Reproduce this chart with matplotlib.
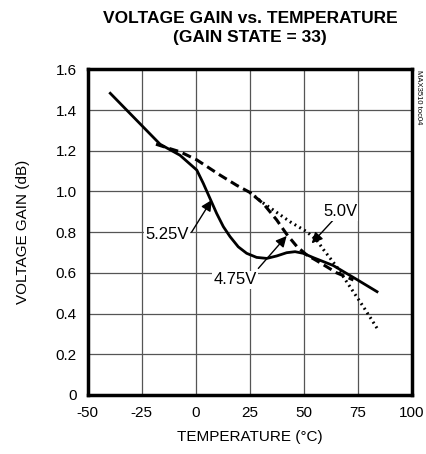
import matplotlib
matplotlib.use("Agg")
import matplotlib.pyplot as plt

plt.rcParams['font.family'] = ['Liberation Sans Narrow', 'Liberation Sans', 'DejaVu Sans']
plt.rcParams['axes.unicode_minus'] = False

# 5.25V (solid)
t_525 = [-40.0, -16.5, -7.3, 0.5, 3.5, 6.6, 9.7, 12.8, 15.9, 19.7, 23.6, 28.2, 32.9, 37.5, 42.1, 46.0, 49.8, 54.4, 63.7, 74.5, 84.5]
g_525 = [1.487, 1.232, 1.178, 1.105, 1.04, 0.966, 0.892, 0.827, 0.778, 0.728, 0.696, 0.676, 0.671, 0.683, 0.699, 0.704, 0.696, 0.675, 0.636, 0.568, 0.504]

# 4.75V (dashed)
t_475 = [-18.4, -11.9, -7.3, 0.5, 11.3, 19.0, 25.1, 31.3, 37.5, 42.1, 46.8, 51.4, 56.0, 65.3, 73.0]
g_475 = [1.232, 1.21, 1.195, 1.155, 1.08, 1.03, 0.995, 0.94, 0.86, 0.79, 0.73, 0.688, 0.66, 0.6, 0.565]

# 5.0V (dotted)
t_50 = [25.1, 31.0, 35.9, 43.7, 51.4, 56.0, 59.1, 65.3, 71.4, 77.6, 84.5]
g_50 = [0.995, 0.945, 0.909, 0.851, 0.802, 0.761, 0.715, 0.63, 0.532, 0.434, 0.319]

x_ticks = [-50, -25, 0, 25, 50, 75, 100]
y_ticks = [0, 0.2, 0.4, 0.6, 0.8, 1.0, 1.2, 1.4, 1.6]
y_labels = ['0', '0.2', '0.4', '0.6', '0.8', '1.0', '1.2', '1.4', '1.6']

fig = plt.figure(figsize=(4.26, 4.54), dpi=100)
ax = fig.add_axes([87.7 / 426, 59 / 454, 324 / 426, 325.7 / 454])

ax.plot(t_50, g_50, color='black', lw=2.2, linestyle=(0, (0.6, 1.2)), dash_capstyle='butt', zorder=3)
ax.plot(t_475, g_475, color='black', lw=2.2, linestyle=(0, (3, 1.6)), zorder=4)
ax.plot(t_525, g_525, color='black', lw=2.0, solid_capstyle='butt', zorder=5)

ax.set_xlim(-50, 100)
ax.set_ylim(0, 1.6)
ax.set_xticks(x_ticks)
ax.set_yticks(y_ticks)
ax.set_yticklabels(y_labels)
ax.tick_params(length=0, labelsize=11, pad=8)
ax.grid(True, color='#555555', lw=0.9)
for s in ax.spines.values():
    s.set_linewidth(2.5)

ax.set_xlabel('TEMPERATURE (°C)', fontsize=11, labelpad=7)
ax.set_ylabel('VOLTAGE GAIN (dB)', fontsize=11, labelpad=18)

fig.text(0.587, 0.975, 'VOLTAGE GAIN vs. TEMPERATURE\n(GAIN STATE = 33)', ha='center', va='top',
         fontsize=12.5, fontweight='bold', linespacing=1.3)
fig.text(0.982, 0.845, 'MAX3510 toc04', rotation=270, ha='center', va='top', fontsize=5.5)

arrow = dict(arrowstyle='-|>', color='black', lw=1.0, mutation_scale=16, shrinkA=0, shrinkB=0)
box = dict(facecolor='white', edgecolor='none', pad=1)
ax.annotate('', xy=(7.4, 0.958), xytext=(-1.9, 0.80), arrowprops=arrow, zorder=6)
ax.text(-13.3, 0.786, '5.25V', ha='center', va='center', fontsize=12, bbox=box, zorder=6)
ax.annotate('', xy=(42.1, 0.781), xytext=(29.0, 0.622), arrowprops=arrow, zorder=6)
ax.text(18.2, 0.565, '4.75V', ha='center', va='center', fontsize=12, bbox=box, zorder=6)
ax.annotate('', xy=(53.7, 0.745), xytext=(63.7, 0.86), arrowprops=arrow, zorder=6)
ax.text(66.8, 0.9, '5.0V', ha='center', va='center', fontsize=12, bbox=box, zorder=6)

fig.savefig('out.png', dpi=100)
